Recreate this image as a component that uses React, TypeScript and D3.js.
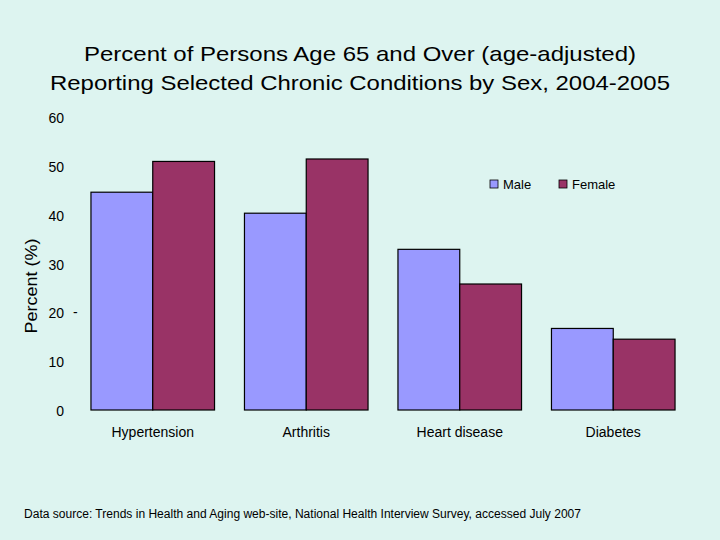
import * as d3 from "d3";
import { useEffect, useRef } from "react";

const categories = ["Hypertension", "Arthritis", "Heart disease", "Diabetes"];
const series = ["Male", "Female"];
const maleValues = [44.6, 40.3, 32.9, 16.7];
const femaleValues = [50.9, 51.4, 25.8, 14.5];
const yTicks = [0, 10, 20, 30, 40, 50, 60];
const colors = ["#9999FF", "#993366"];

export default function App() {
  const svgRef = useRef<SVGSVGElement>(null);

  useEffect(() => {
    document.body.style.margin = "0";
    if (!svgRef.current) return;
    const svg = d3.select(svgRef.current);
    svg.selectAll("*").remove();

    const width = 720,
      height = 540;
    const font = "'Liberation Sans', Arial, sans-serif";

    svg.append("rect").attr("width", width).attr("height", height).attr("fill", "#DDF4F0");

    // title
    const title = svg
      .append("text")
      .attr("text-anchor", "middle")
      .attr("font-family", font)
      .attr("font-size", 21)
      .attr("fill", "#000");
    title
      .append("tspan")
      .attr("x", 360)
      .attr("y", 61)
      .attr("textLength", 552)
      .attr("lengthAdjust", "spacingAndGlyphs")
      .text("Percent of Persons Age 65 and Over (age-adjusted)");
    title
      .append("tspan")
      .attr("x", 360)
      .attr("y", 90)
      .attr("textLength", 620)
      .attr("lengthAdjust", "spacingAndGlyphs")
      .text("Reporting Selected Chronic Conditions by Sex, 2004-2005");

    const x0 = d3.scaleBand().domain(categories).range([76, 690]).paddingInner(0.195).paddingOuter(0.0975);
    const x1 = d3.scaleBand().domain(series).range([0, x0.bandwidth()]);
    const y = d3.scaleLinear().domain([0, 60]).range([410, 117]);

    // y tick labels (no axis line)
    const g = svg.append("g").attr("font-family", font);
    g.selectAll("text.ytick")
      .data(yTicks)
      .enter()
      .append("text")
      .attr("class", "ytick")
      .attr("x", 64)
      .attr("y", (d) => y(d) + 6)
      .attr("text-anchor", "end")
      .attr("font-size", 14)
      .text((d) => String(d));
    g.append("text")
      .attr("x", 73)
      .attr("y", y(20) + 5)
      .attr("font-size", 14)
      .text("-");

    svg
      .append("text")
      .attr("transform", `translate(37,${286}) rotate(-90)`)
      .attr("text-anchor", "middle")
      .attr("font-family", font)
      .attr("font-size", 17)
      .attr("textLength", 95)
      .attr("lengthAdjust", "spacingAndGlyphs")
      .text("Percent (%)");

    const data = categories.map((c, i) => ({ c, values: [maleValues[i], femaleValues[i]] }));

    const groups = svg
      .append("g")
      .selectAll("g")
      .data(data)
      .enter()
      .append("g")
      .attr("transform", (d) => `translate(${x0(d.c)},0)`);

    groups
      .selectAll("rect")
      .data((d) => d.values.map((v, i) => ({ s: series[i], v, i })))
      .enter()
      .append("rect")
      .attr("x", (d) => x1(d.s) as number)
      .attr("y", (d) => y(d.v))
      .attr("width", x1.bandwidth())
      .attr("height", (d) => y(0) - y(d.v))
      .attr("fill", (d) => colors[d.i])
      .attr("stroke", "#000")
      .attr("stroke-width", 1.2);

    // category labels
    svg
      .append("g")
      .selectAll("text")
      .data(categories)
      .enter()
      .append("text")
      .attr("x", (d) => (x0(d) as number) + x0.bandwidth() / 2)
      .attr("y", 437)
      .attr("text-anchor", "middle")
      .attr("font-family", font)
      .attr("font-size", 14)
      .text((d) => d);

    // legend
    const legendX = [490, 559];
    const legend = svg
      .append("g")
      .selectAll("g")
      .data(series)
      .enter()
      .append("g")
      .attr("transform", (d, i) => `translate(${legendX[i]},180)`);
    legend
      .append("rect")
      .attr("width", 8)
      .attr("height", 8)
      .attr("fill", (d, i) => colors[i])
      .attr("stroke", "#000")
      .attr("stroke-width", 0.8);
    legend
      .append("text")
      .attr("x", 13)
      .attr("y", 9)
      .attr("font-family", font)
      .attr("font-size", 13)
      .text((d) => d);

    svg
      .append("text")
      .attr("x", 24)
      .attr("y", 518)
      .attr("font-family", font)
      .attr("font-size", 12)
      .attr("textLength", 557)
      .attr("lengthAdjust", "spacingAndGlyphs")
      .text("Data source: Trends in Health and Aging web-site, National Health Interview Survey, accessed July 2007");
  }, []);

  return (
    <div>
      <svg ref={svgRef} width={720} height={540} style={{ display: "block" }} />
    </div>
  );
}
